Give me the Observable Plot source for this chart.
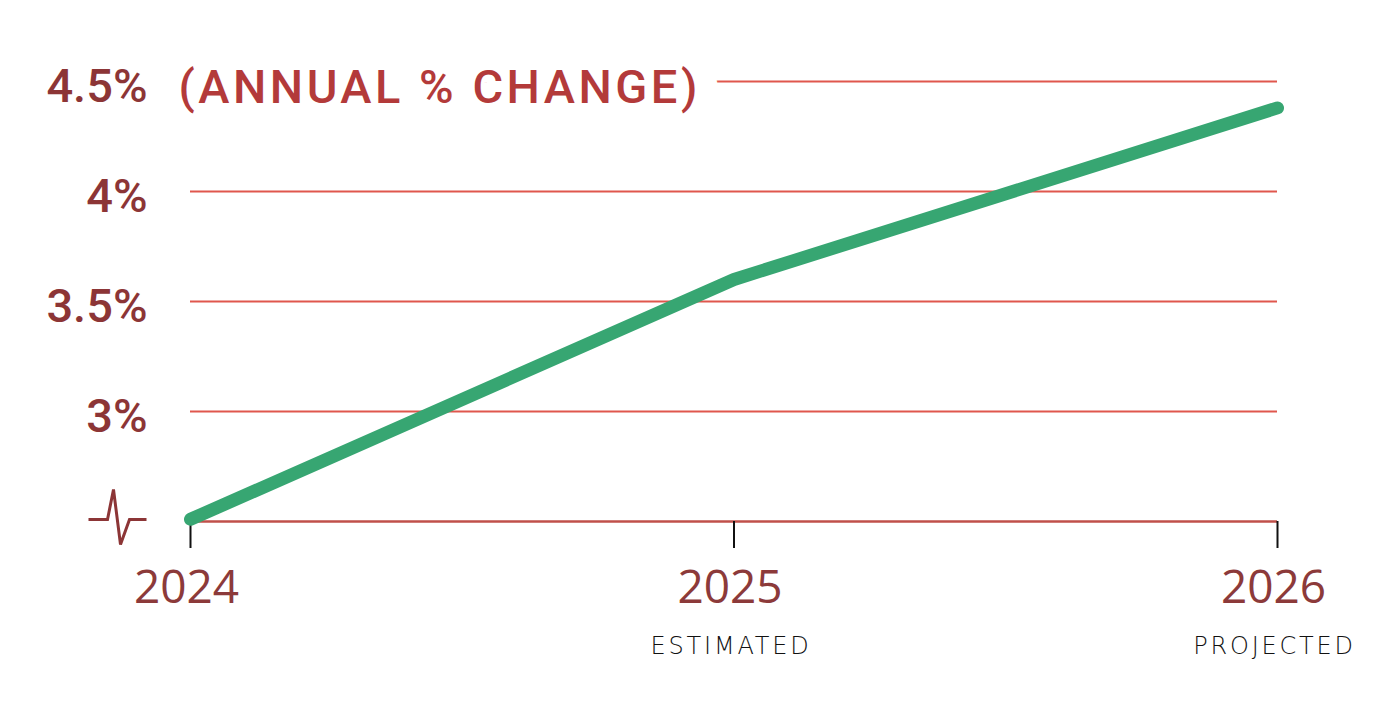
<!DOCTYPE html>
<html>
<head>
<meta charset="utf-8">
<script src="https://cdn.jsdelivr.net/npm/d3@7"></script>
<script src="https://cdn.jsdelivr.net/npm/@observablehq/plot@0.6"></script>
<style>
  html, body { margin: 0; padding: 0; background: #fff; }
  #chart { width: 1386px; height: 719px; }
</style>
</head>
<body>
<div id="chart"></div>
<script>
// Data
const years = [2024, 2025, 2026];
const changes = [2.51, 3.6, 4.38];
const subLabels = ["", "ESTIMATED", "PROJECTED"];
const gridValues = [3, 3.5, 4, 4.5];
const gridLabels = ["3%", "3.5%", "4%", "4.5%"];
const baseValue = 2.5;
const titleText = "(ANNUAL % CHANGE)";

const rows = years.map((y, i) => ({year: y, value: changes[i], sub: subLabels[i]}));

const breakSymbol = {
  draw(context) {
    context.moveTo(-29, 0);
    context.lineTo(-10, 0);
    context.lineTo(-4, -30);
    context.lineTo(3, 25);
    context.lineTo(12, 0);
    context.lineTo(29, 0);
  }
};

const chart = Plot.plot({
  width: 1386,
  height: 719,
  marginLeft: 190,
  marginRight: 109,
  marginTop: 81,
  marginBottom: 198,
  style: {background: "#fff", overflow: "visible"},
  x: {domain: [2024, 2026]},
  y: {domain: [baseValue, 4.5]},
  marks: [
    Plot.ruleY(gridValues, {stroke: "#e0574d", strokeWidth: 2}),
    Plot.ruleY([baseValue], {stroke: "#c0504a", strokeWidth: 2.5}),
    Plot.axisX({
      ticks: years,
      tickSize: 27,
      text: null,
      stroke: "#111",
      strokeWidth: 2,
      label: null
    }),
    Plot.axisX({
      ticks: years,
      tickFormat: d => String(d),
      tickSize: 27,
      tickPadding: 22,
      strokeOpacity: 0,
      dx: -4,
      fill: "#8c3a3a",
      fontSize: 46,
      fontFamily: "Open Sans",
      fontWeight: 400,
      label: null
    }),
    Plot.axisY({
      ticks: gridValues,
      tickFormat: (d, i) => gridLabels[i],
      tickSize: 0,
      tickPadding: 43,
      dy: 5,
      fill: "#8c3536",
      fontSize: 47,
      fontFamily: "Roboto",
      fontWeight: 500,
      label: null
    }),
    Plot.text([titleText], {
      y: [4.5],
      frameAnchor: "left",
      dx: -12,
      dy: 6,
      text: d => d,
      textAnchor: "start",
      fill: "#b33a3a",
      stroke: "white",
      strokeWidth: 46,
      fontSize: 47,
      fontFamily: "Roboto",
      fontWeight: 500
    }),
    Plot.text(rows, {
      x: "year",
      text: "sub",
      frameAnchor: "bottom",
      dy: 132,
      dx: -3,
      fill: "#111",
      fontSize: 24,
      fontFamily: "DejaVu Sans",
      fontWeight: 300
    }),
    Plot.dot([baseValue], {
      y: d => d,
      frameAnchor: "left",
      dx: -73,
      dy: -2,
      symbol: breakSymbol,
      fill: "none",
      stroke: "#8c3536",
      strokeWidth: 3
    }),
    Plot.line(rows, {
      x: "year",
      y: "value",
      stroke: "#37a672",
      strokeWidth: 13,
      strokeLinecap: "round",
      strokeLinejoin: "round"
    })
  ]
});

// letter-spacing for the title and the small sub-labels
d3.select(chart).selectAll("text").each(function() {
  const t = this.textContent;
  if (t === titleText) this.style.letterSpacing = "3.5px";
  else if (subLabels.includes(t) && t) this.style.letterSpacing = "2.8px";
});

document.getElementById("chart").appendChild(chart);
</script>
</body>
</html>
